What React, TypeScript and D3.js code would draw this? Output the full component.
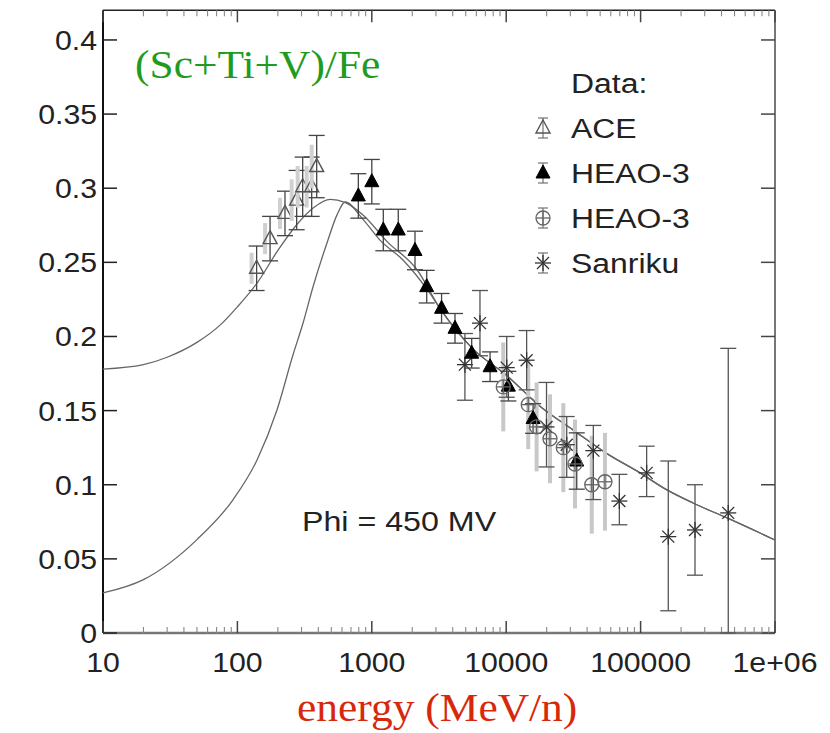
import React from "react";
import * as d3 from "d3";

const W = 830;
const H = 733;

const xTickValues = [10, 100, 1000, 10000, 100000, 1000000];
const xTickLabels = ["10", "100", "1000", "10000", "100000", "1e+06"];
const yTickValues = [0, 0.05, 0.1, 0.15, 0.2, 0.25, 0.3, 0.35, 0.4];
const yTickLabels = ["0", "0.05", "0.1", "0.15", "0.2", "0.25", "0.3", "0.35", "0.4"];

// broad curve (high at low energy)
const curveAEnergy = [10, 20, 30, 50, 75, 100, 140, 200, 280, 370, 490, 630, 860, 1300, 2170, 3214, 5600, 10140, 17830, 31400, 56200, 99000, 157000, 245000, 440000, 1000000];
const curveAValue = [0.178, 0.181, 0.186, 0.196, 0.208, 0.22, 0.236, 0.258, 0.276, 0.287, 0.2925, 0.2905, 0.282, 0.264, 0.245, 0.219, 0.192, 0.1735, 0.153, 0.137, 0.121, 0.108, 0.0965, 0.0877, 0.0776, 0.0627];
// modulated curve (low at low energy)
const curveBEnergy = [10, 20, 50, 93, 140, 197, 259, 308, 365, 464, 551, 633, 860, 1150, 1706, 2710, 3214, 5600, 10140, 17830, 31400, 56200, 99000, 157000, 245000, 440000, 1000000];
const curveBValue = [0.027, 0.036, 0.063, 0.09, 0.1167, 0.1504, 0.1875, 0.2091, 0.2334, 0.2631, 0.282, 0.2907, 0.279, 0.265, 0.2516, 0.229, 0.219, 0.192, 0.1735, 0.153, 0.137, 0.121, 0.108, 0.0965, 0.0877, 0.0776, 0.0627];

const aceEnergy = [139, 175, 226, 276, 306, 357, 389];
const aceValue = [0.246, 0.266, 0.283, 0.292, 0.301, 0.301, 0.3146];
const aceError = [0.015, 0.015, 0.015, 0.02, 0.02, 0.02, 0.021];

const heaoTriEnergy = [794, 1000, 1218, 1574, 2096, 2562, 3304, 4159, 5536, 7586, 10380, 15850, 33500];
const heaoTriValue = [0.2948, 0.3044, 0.2718, 0.2718, 0.258, 0.2336, 0.219, 0.2055, 0.1887, 0.1796, 0.1665, 0.1447, 0.116];
const heaoTriError = [0.015, 0.015, 0.014, 0.014, 0.013, 0.011, 0.01, 0.01, 0.01, 0.01, 0.01, 0.01, 0.019];

const heaoCircEnergy = [9510, 14590, 16840, 21170, 26600, 32500, 43300, 54300];
const heaoCircValue = [0.166, 0.154, 0.139, 0.131, 0.125, 0.114, 0.1, 0.102];
const heaoCircError = [0.03, 0.03, 0.03, 0.03, 0.03, 0.03, 0.033, 0.033];

const sanrikuEnergy = [4930, 6380, 10090, 14190, 19950, 28200, 44500, 69500, 110900, 160700, 254000, 449000];
const sanrikuValue = [0.181, 0.209, 0.179, 0.184, 0.139, 0.127, 0.123, 0.089, 0.108, 0.065, 0.0695, 0.081];
const sanrikuLow = [0.157, 0.187, 0.159, 0.164, 0.112, 0.105, 0.09, 0.073, 0.092, 0.015, 0.039, 0];
const sanrikuHigh = [0.202, 0.231, 0.2, 0.204, 0.169, 0.146, 0.14, 0.107, 0.126, 0.116, 0.1, 0.192];

const legendTitle = "Data:";
const legendLabels = ["ACE", "HEAO-3", "HEAO-3", "Sanriku"];
const titleText = "(Sc+Ti+V)/Fe";
const xLabelText = "energy (MeV/n)";
const phiText = "Phi = 450 MV";

const x = d3.scaleLog().domain([10, 1e6]).range([103, 775]);
const y = d3.scaleLinear().domain([0, 0.42]).range([633, 10.3]);

const SANS = "'Liberation Sans', Arial, Helvetica, sans-serif";
const SERIF = "'Liberation Serif', 'Times New Roman', serif";
const BAR = "#444";

function SText({ x: tx, y: ty, sx = 1, anchor = "start", size = 28, family = SANS, fill = "#222", children }: any) {
  return (
    <text
      transform={`translate(${tx},${ty}) scale(${sx},1)`}
      textAnchor={anchor}
      fontFamily={family}
      fontSize={size}
      fill={fill}
    >
      {children}
    </text>
  );
}

function ErrBar({ cx, y1, y2, color = BAR, w = 1.3, cap = 8 }: any) {
  return (
    <g stroke={color} strokeWidth={w}>
      <line x1={cx} x2={cx} y1={y1} y2={y2} />
      <line x1={cx - cap} x2={cx + cap} y1={y1} y2={y1} />
      <line x1={cx - cap} x2={cx + cap} y1={y2} y2={y2} />
    </g>
  );
}

function OpenTri({ cx, cy }: any) {
  return <path d={`M${cx},${cy - 8} L${cx + 7},${cy + 5} L${cx - 7},${cy + 5} Z`} fill="none" stroke="#555" strokeWidth={1.4} />;
}
function FilledTri({ cx, cy }: any) {
  return <path d={`M${cx},${cy - 8} L${cx + 7},${cy + 5} L${cx - 7},${cy + 5} Z`} fill="#000" stroke="#000" strokeWidth={1} />;
}
function CircSym({ cx, cy }: any) {
  return (
    <g stroke="#666" strokeWidth={1.3} fill="none">
      <circle cx={cx} cy={cy} r={7} />
      <line x1={cx - 7} x2={cx + 7} y1={cy} y2={cy} />
      <line x1={cx} x2={cx} y1={cy - 7} y2={cy + 7} />
    </g>
  );
}
function Star({ cx, cy }: any) {
  const r = 8, d = 6;
  return (
    <g stroke="#333" strokeWidth={1.3}>
      <line x1={cx - r} x2={cx + r} y1={cy} y2={cy} />
      <line x1={cx} x2={cx} y1={cy - r} y2={cy + r} />
      <line x1={cx - d} x2={cx + d} y1={cy - d} y2={cy + d} />
      <line x1={cx - d} x2={cx + d} y1={cy + d} y2={cy - d} />
    </g>
  );
}

export default function App() {
  const line = d3
    .line<[number, number]>()
    .x((d) => x(d[0]))
    .y((d) => y(d[1]))
    .curve(d3.curveMonotoneX);
  const pathA = line(curveAEnergy.map((e, i) => [e, curveAValue[i]]) as [number, number][]) || "";
  const pathB = line(curveBEnergy.map((e, i) => [e, curveBValue[i]]) as [number, number][]) || "";

  const [x0, x1] = x.range();
  const [yb, yt] = y.range();

  const minorTicks: number[] = [];
  for (let dec = 10; dec < 1e6; dec *= 10) for (let k = 2; k <= 9; k++) minorTicks.push(dec * k);

  const legendY = [128, 173, 218, 263];

  return (
    <svg width={W} height={H} style={{ position: "absolute", left: 0, top: 0, background: "#fff" }}>
      <rect x={0} y={0} width={W} height={H} fill="#fff" />
      {/* frame */}
      <g fill="none">
        <line x1={x0} x2={x1} y1={yt} y2={yt} stroke="#222" strokeWidth={1.5} />
        <line x1={x1} x2={x1} y1={yt} y2={yb} stroke="#777" strokeWidth={2} />
        <line x1={x0} x2={x1} y1={yb} y2={yb} stroke="#777" strokeWidth={2.5} />
        <line x1={x0} x2={x0} y1={yt} y2={yb} stroke="#111" strokeWidth={2} />
      </g>
      {/* y ticks */}
      {yTickValues.map((v, i) => (
        <g key={"yt" + i}>
          <line x1={x0} x2={x0 + 14} y1={y(v)} y2={y(v)} stroke="#222" strokeWidth={1.5} />
          <line x1={x1 - 14} x2={x1} y1={y(v)} y2={y(v)} stroke="#444" strokeWidth={1.5} />
          <SText x={97} y={y(v) + 10} anchor="end" sx={1.08}>{yTickLabels[i]}</SText>
        </g>
      ))}
      {/* x ticks */}
      {xTickValues.map((v, i) => (
        <g key={"xt" + i}>
          <line x1={x(v)} x2={x(v)} y1={yb} y2={yb - 12} stroke="#444" strokeWidth={1.5} />
          <line x1={x(v)} x2={x(v)} y1={yt} y2={yt + 12} stroke="#444" strokeWidth={1.5} />
          <SText x={x(v)} y={672} anchor="middle" sx={1.08}>{xTickLabels[i]}</SText>
        </g>
      ))}
      {minorTicks.map((v, i) => (
        <g key={"mt" + i} stroke="#888" strokeWidth={1.1}>
          <line x1={x(v)} x2={x(v)} y1={yb} y2={yb - 6} />
          <line x1={x(v)} x2={x(v)} y1={yt} y2={yt + 6} />
        </g>
      ))}

      {/* curves */}
      <path d={pathA} fill="none" stroke="#666" strokeWidth={1.3} />
      <path d={pathB} fill="none" stroke="#666" strokeWidth={1.3} />

      {/* HEAO-3 circles: grey systematic bars */}
      {heaoCircEnergy.map((e, i) => (
        <g key={"hc" + i}>
          <line x1={x(e)} x2={x(e)} y1={y(heaoCircValue[i] + heaoCircError[i])} y2={y(heaoCircValue[i] - heaoCircError[i])} stroke="#c8c8c8" strokeWidth={4} />
        </g>
      ))}
      {/* ACE */}
      {aceEnergy.map((e, i) => (
        <g key={"ace" + i}>
          <line x1={x(e) - 5} x2={x(e) - 5} y1={y(aceValue[i] + aceError[i] * 0.7)} y2={y(aceValue[i] - aceError[i] * 0.7)} stroke="#d0d0d0" strokeWidth={4} />
          <ErrBar cx={x(e)} y1={y(aceValue[i] + aceError[i])} y2={y(aceValue[i] - aceError[i])} />
          <OpenTri cx={x(e)} cy={y(aceValue[i])} />
        </g>
      ))}
      {/* Sanriku */}
      {sanrikuEnergy.map((e, i) => (
        <g key={"sa" + i}>
          <ErrBar cx={x(e)} y1={y(sanrikuHigh[i])} y2={y(sanrikuLow[i])} color="#555" />
          <Star cx={x(e)} cy={y(sanrikuValue[i])} />
        </g>
      ))}
      {/* HEAO-3 triangles */}
      {heaoTriEnergy.map((e, i) => (
        <g key={"ht" + i}>
          <ErrBar cx={x(e)} y1={y(heaoTriValue[i] + heaoTriError[i])} y2={y(heaoTriValue[i] - heaoTriError[i])} />
          <FilledTri cx={x(e)} cy={y(heaoTriValue[i])} />
        </g>
      ))}
      {heaoCircEnergy.map((e, i) => (
        <CircSym key={"hcs" + i} cx={x(e)} cy={y(heaoCircValue[i])} />
      ))}

      {/* legend */}
      <SText x={571} y={93} sx={1.14}>{legendTitle}</SText>
      {legendLabels.map((lab, i) => (
        <g key={"lg" + i}>
          <SText x={571} y={legendY[i] + 10} sx={1.14}>{lab}</SText>
          <ErrBar cx={543} y1={legendY[i] - 10} y2={legendY[i] + 10} cap={5} color="#666" w={1.1} />
          {i === 0 && <OpenTri cx={543} cy={legendY[i]} />}
          {i === 1 && <FilledTri cx={543} cy={legendY[i]} />}
          {i === 2 && <CircSym cx={543} cy={legendY[i]} />}
          {i === 3 && <Star cx={543} cy={legendY[i]} />}
        </g>
      ))}

      <SText x={302} y={531} sx={1.15}>{phiText}</SText>
      <SText x={135} y={78} sx={1.06} size={41} family={SERIF} fill="#1f9c1f">{titleText}</SText>
      <SText x={297} y={721} sx={1.06} size={41} family={SERIF} fill="#d8280c">{xLabelText}</SText>
    </svg>
  );
}
